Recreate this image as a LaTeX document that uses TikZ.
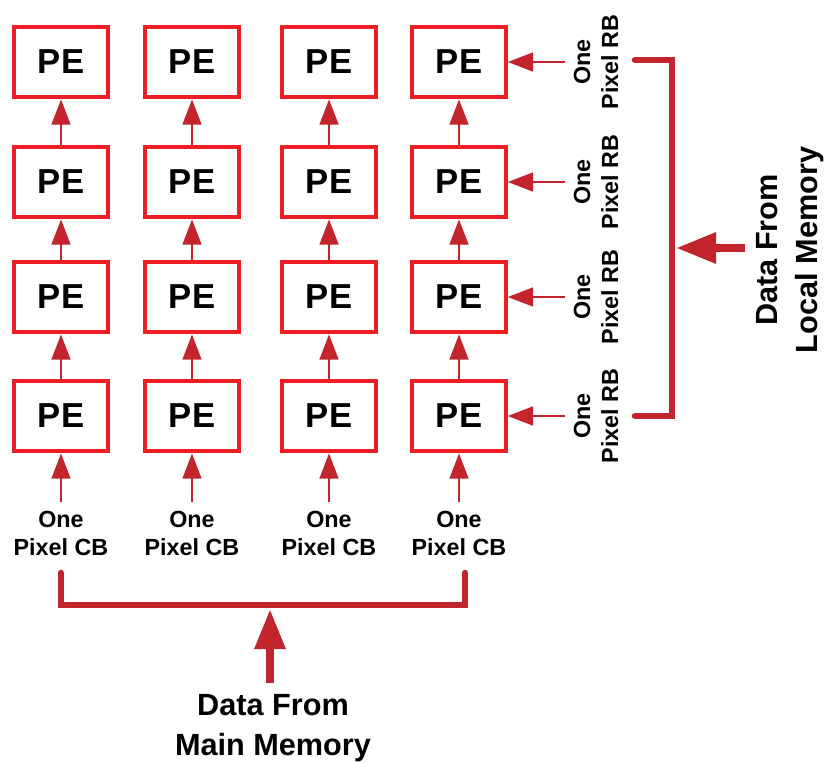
\documentclass[tikz,border=0pt]{standalone}
\usepackage{fontspec}
\setmainfont{Liberation Sans}
\usetikzlibrary{arrows.meta}
\definecolor{boxred}{RGB}{237,30,36}
\definecolor{linkred}{RGB}{194,38,44}

\begin{document}
\begin{tikzpicture}[x=0.75pt,y=-0.75pt,
  pe/.style={draw=boxred,line width=3pt,fill=white,minimum width=70pt,minimum height=53pt,font=\fontsize{26}{30}\selectfont\bfseries},
  link/.style={draw=linkred,line width=2pt,-{Triangle[length=19pt,width=14pt]}},
  feed/.style={draw=linkred,line width=6pt,-{Triangle[length=30pt,width=22pt]}},
  bus/.style={draw=linkred,line width=5pt,line cap=round,line join=miter},
  small/.style={align=center,font=\fontsize{17.5}{21}\selectfont\bfseries,inner sep=6pt},
  big/.style={align=center,font=\fontsize{23}{30}\selectfont\bfseries,inner sep=8pt}]

  \useasboundingbox (0,0) rectangle (828,763);

  % PE array, row 1 at the bottom
  \foreach \c/\x in {1/61,2/192,3/329,4/459} {
    \foreach \r/\y in {1/416,2/297,3/182,4/62} {
      \node[pe] (pe\c\r) at (\x,\y) {PE};
    }
    \foreach \r [count=\s from 2] in {1,2,3} {
      \draw[link] (pe\c\r) -- (pe\c\s);
    }
    \node[small] (cb\c) at (\x,533) {One\\Pixel CB};
    \draw[link] (cb\c) -- (pe\c1);
  }

  \foreach \r/\y in {1/416,2/297,3/182,4/62} {
    \node[small,rotate=90] (rb\r) at (596,\y) {One\\Pixel RB};
    \draw[link] (rb\r) -- (pe4\r);
  }

  % local memory
  \coordinate (lbus) at (676,248);
  \draw[bus] (635,60) -- (672,60) -- (672,416) -- (635,416);
  \node[big,rotate=90] (dl) at (790,250) {Data From\\Local Memory};
  \draw[feed] (dl.north |- lbus) -- (lbus);

  % main memory
  \coordinate (mbus) at (270,609);
  \draw[bus] (61,573) -- (61,605) -- (465,605) -- (465,573);
  \node[big] (dm) at (273,728) {Data From\\Main Memory};
  \draw[feed] (dm.north -| mbus) -- (mbus);
\end{tikzpicture}
\end{document}
